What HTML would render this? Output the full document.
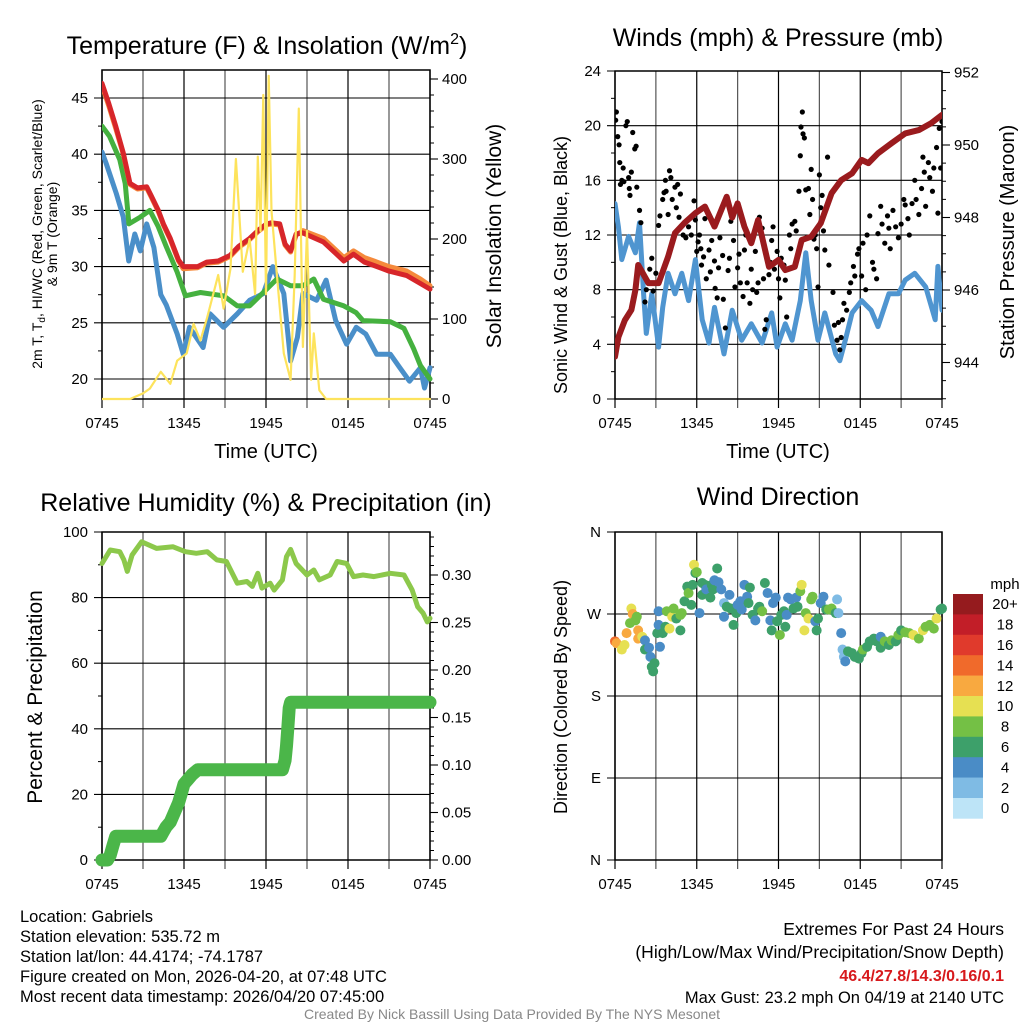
<!DOCTYPE html>
<html><head><meta charset="utf-8"><style>
html,body{margin:0;padding:0;background:#fff;}
svg{display:block;font-family:"Liberation Sans",Arial,sans-serif;}
</style></head><body>
<svg id="chart" width="1024" height="1024" viewBox="0 0 1024 1024">
<rect width="1024" height="1024" fill="#fff"/>
<g id="p1"></g>
<g id="p2"></g>
<g id="p3"></g>
<g id="p4"></g>
<g font-size="25" text-anchor="middle" fill="#000">
<text x="267" y="54">Temperature (F) &amp; Insolation (W/m<tspan font-size="16" dy="-10">2</tspan><tspan dy="10">)</tspan></text>
<text x="778" y="46">Winds (mph) &amp; Pressure (mb)</text>
<text x="266" y="511">Relative Humidity (%) &amp; Precipitation (in)</text>
<text x="778" y="505">Wind Direction</text>
</g>
<g font-size="20" text-anchor="middle">
<text x="266" y="458">Time (UTC)</text>
<text x="778" y="458">Time (UTC)</text>
<text transform="translate(501,236) rotate(-90)" font-size="21">Solar Insolation (Yellow)</text>
<text transform="translate(567,265) rotate(-90)" font-size="18">Sonic Wind &amp; Gust (Blue, Black)</text>
<text transform="translate(1014,242) rotate(-90)">Station Pressure (Maroon)</text>
<text transform="translate(42,697) rotate(-90)" font-size="21">Percent &amp; Precipitation</text>
<text transform="translate(567,697) rotate(-90)" font-size="18">Direction (Colored By Speed)</text>
</g>
<g font-size="14" text-anchor="middle">
<text transform="translate(42,234) rotate(-90)">2m T, T<tspan font-size="10" dy="3">d</tspan><tspan dy="-3">, HI/WC (Red, Green, Scarlet/Blue)</tspan></text>
<text transform="translate(57,234) rotate(-90)">&amp; 9m T (Orange)</text>
</g>
<g id="cbar"><text x="1005" y="589" font-size="15" text-anchor="middle">mph</text></g>
<g font-size="16.5" fill="#000">
<text x="20" y="922">Location: Gabriels</text>
<text x="20" y="942">Station elevation: 535.72 m</text>
<text x="20" y="962">Station lat/lon: 44.4174; -74.1787</text>
<text x="20" y="982">Figure created on Mon, 2026-04-20, at 07:48 UTC</text>
<text x="20" y="1002">Most recent data timestamp: 2026/04/20 07:45:00</text>
</g>
<g font-size="17.5" text-anchor="end">
<text x="1004" y="935">Extremes For Past 24 Hours</text>
<text x="1004" y="958">(High/Low/Max Wind/Precipitation/Snow Depth)</text>
<text x="1004" y="981" fill="#d7191c" font-weight="bold" font-size="16">46.4/27.8/14.3/0.16/0.1</text>
<text x="1004" y="1003" font-size="16.5">Max Gust: 23.2 mph On 04/19 at 2140 UTC</text>
</g>
<text x="512" y="1019" font-size="14" fill="#888" text-anchor="middle">Created By Nick Bassill Using Data Provided By The NYS Mesonet</text>
</svg>
<script>
// ---- Data (hours since 0745 UTC) ----
const xTickLabels=["0745","1345","1945","0145","0745"];
const redHours=[0,0.5,1.0,1.56,2.05,2.6,3.27,3.6,4.12,4.49,5.0,5.6,5.95,7.0,7.66,8.5,9.37,10.0,10.8,11.5,12.05,12.4,13.0,13.4,13.8,14.2,14.7,16.2,17.0,17.7,18.4,19.2,19.9,21,22.3,23.3,24];
const redTemp=[46.3,44.5,42.5,40.1,37.4,37.0,37.1,36.3,35.0,33.8,32.5,30.6,30.0,30.0,30.4,30.5,31.0,31.8,32.5,33.3,33.8,33.9,33.8,32.0,31.4,32.9,33.0,32.2,31.3,30.5,31.1,30.4,30.1,29.6,29.2,28.5,28.0];
const orangeTemp=[46.1,44.3,42.3,40.0,37.3,36.9,37.0,36.2,34.9,33.7,32.4,30.5,29.8,29.9,30.3,30.4,30.9,31.7,32.4,33.2,33.7,33.8,33.7,31.9,31.3,32.8,33.2,32.5,31.6,30.8,31.4,30.8,30.5,30.0,29.6,28.9,28.3];
const greenHours=[0,0.55,1.3,1.7,1.97,2.8,3.5,4.1,4.7,5.5,6.1,7.2,8.9,9.9,10.8,12.05,12.8,13.8,14.7,15.5,16.2,17.7,18.6,19.1,21.1,22.1,22.8,23.3,24];
const greenTemp=[42.5,41.6,39.5,37.4,33.8,34.4,35.0,33.6,31.8,29.5,27.4,27.7,27.4,26.5,26.5,28.0,28.9,28.3,28.3,28.9,27.1,26.5,25.9,25.2,25.1,24.5,22.7,21.2,20.0];
const blueHours=[0,0.3,1.05,1.56,1.95,2.4,2.8,3.27,3.8,4.3,4.7,5.5,5.95,6.4,7.4,7.9,8.9,9.9,10.8,11.8,12.5,13.3,13.8,14.3,14.7,15.7,16.4,17.1,17.9,18.6,19.3,20.1,21.1,21.8,22.5,23.3,23.6,24];
const blueTemp=[40.2,39.2,36.5,34.4,30.5,32.9,31.4,33.8,31.7,27.5,26.6,24.0,22.2,24.6,22.8,25.8,24.6,25.8,27.0,27.6,30.0,27.6,21.6,23.7,27.6,27.0,28.8,25.2,23.1,24.6,24.0,22.2,22.2,21.0,19.8,21.0,19.2,21.0];
const solarHours=[0,2.05,3.0,3.5,4.3,5.0,5.5,6.2,6.7,7.2,7.7,8.5,8.9,9.4,9.8,10.3,10.8,11.2,11.4,11.6,11.8,12.0,12.2,12.4,12.8,13.3,13.8,14.1,14.4,14.7,15.0,15.3,15.5,15.9,16.4,24];
const solarValues=[0,0,7,13,34,19,48,57,94,73,102,155,113,163,300,159,200,131,303,210,380,131,404,235,155,57,24,155,363,65,210,24,82,11,0,0];
const tempTicks=[20,25,30,35,40,45];
const solarTicks=[0,100,200,300,400];

const windHours=[0,0.25,0.5,1.0,1.5,1.8,2.1,2.3,2.7,3.2,3.5,3.9,4.4,4.9,5.4,5.9,6.4,6.9,7.3,8.0,8.6,9.3,10.0,10.8,11.5,11.9,12.5,13.0,13.6,14.0,14.4,14.9,15.4,16.2,16.5,16.9,17.4,18.1,18.8,19.3,20.1,20.8,21.3,22.0,22.8,23.5,23.7,24];
const windSpeed=[14.3,12.6,10.2,11.9,10.7,12.9,7.7,4.8,7.7,3.8,6.7,9.2,7.7,9.2,7.2,10.2,5.8,4.1,6.7,3.3,6.5,4.3,5.5,4.1,6.3,3.8,5.5,4.3,7.2,10.7,7.2,4.3,6.3,3.3,2.8,4.3,6.3,7.2,6.5,5.3,7.7,7.7,8.7,9.2,8.2,5.8,9.7,6.5];
const gustHours=[0.05,0.1,0.2,0.3,0.35,0.4,0.5,0.6,0.65,0.8,0.9,1.0,1.05,1.1,1.2,1.3,1.45,1.55,1.6,1.8,1.9,2.2,2.3,2.55,2.7,2.8,3.0,3.2,3.3,3.5,3.6,3.7,3.75,3.9,4.0,4.1,4.2,4.4,4.5,4.6,4.7,4.8,5.0,5.2,5.4,5.6,5.8,5.9,6.0,6.1,6.2,6.3,6.35,6.5,6.6,6.7,6.9,7.0,7.1,7.3,7.35,7.5,7.6,7.7,7.9,7.95,8.1,8.3,8.4,8.5,8.7,8.8,9.0,9.1,9.2,9.4,9.5,9.6,9.7,9.9,10.0,10.1,10.3,10.4,10.5,10.6,10.8,10.9,11.0,11.1,11.3,11.4,11.5,11.6,11.7,11.9,12.0,12.1,12.2,12.4,12.5,12.6,12.8,12.9,13.0,13.2,13.3,13.5,13.6,13.65,13.75,13.8,13.9,14.0,14.2,14.3,14.4,14.5,14.6,14.7,14.8,14.9,15.0,15.1,15.2,15.3,15.4,15.6,15.7,16.0,16.1,16.3,16.4,16.5,16.6,16.7,16.8,17.0,17.2,17.3,17.5,17.6,17.8,17.9,18.1,18.2,18.4,18.5,18.7,18.9,19.0,19.2,19.3,19.5,19.6,19.8,20.0,20.1,20.2,20.4,20.6,20.8,21.0,21.2,21.3,21.5,21.6,21.8,22.0,22.1,22.3,22.5,22.6,22.7,22.8,23.0,23.1,23.3,23.4,23.6,23.7,23.8,23.9,24.0];
const gustSpeed=[20.4,21.0,19.2,18.6,17.3,15.7,16.0,16.9,15.9,20.0,20.3,16.2,15.4,14.9,16.6,19.5,18.3,18.5,15.5,13.8,12.9,7.1,8.0,9.5,10.3,7.9,9.2,12.7,13.4,14.6,15.1,16.0,15.2,13.5,16.7,16.2,14.6,15.5,14.0,15.7,13.3,15.0,12.0,11.8,12.6,12.0,14.5,13.1,10.8,11.5,12.0,11.0,9.8,10.4,13.2,8.8,10.9,9.3,11.6,10.1,8.1,7.4,9.6,11.8,10.5,7.3,5.2,9.4,10.3,13.0,11.6,8.2,9.6,10.6,8.5,7.5,10.9,12.0,8.5,7.0,9.5,8.0,10.8,7.8,8.5,13.3,12.5,8.8,5.1,5.8,9.1,10.0,11.6,12.6,9.5,10.8,8.8,7.4,10.3,9.8,8.7,6.0,12.0,11.0,12.8,13.0,12.3,15.2,17.8,19.9,21.0,19.4,19.1,15.3,15.4,13.5,16.8,14.6,11.7,12.0,11.0,8.2,16.4,14.0,14.9,12.3,10.9,17.7,9.8,7.8,5.4,4.3,5.6,3.6,4.5,5.8,7.0,6.5,7.8,8.5,9.7,9.0,10.6,11.0,9.0,11.4,8.0,12.0,13.4,10.0,9.5,8.8,12.1,14.1,12.8,11.4,13.4,12.5,11.0,13.8,12.6,11.8,12.8,14.6,14.2,13.2,12.0,14.3,16.0,14.6,13.5,15.4,17.7,16.6,14.1,17.3,16.2,15.2,16.9,18.4,13.6,19.8,16.9,20.3];
const pressHours=[0,0.25,0.73,1.2,1.5,1.7,2.45,3.2,3.9,4.4,5.1,5.9,6.6,7.3,8.2,8.6,9.0,9.5,10.0,10.5,11.3,12.0,12.5,13.2,13.7,14.4,15.1,15.9,16.6,17.4,18.1,18.6,19.3,20.3,21.3,22.3,23.2,24];
const pressValues=[944.16,944.7,945.17,945.45,946.0,946.69,946.19,946.19,946.92,947.57,947.85,948.12,948.3,947.75,948.57,948.0,948.39,947.75,947.29,947.93,946.64,946.83,946.55,946.64,947.38,947.47,947.84,948.67,949.03,949.22,949.59,949.5,949.77,950.05,950.32,950.41,950.6,950.83];
const windTicks=[0,4,8,12,16,20,24];
const pressTicks=[944,946,948,950,952];

const rhHours=[0,0.6,1.3,1.6,1.85,2.2,2.9,4.0,5.2,6.1,6.9,7.7,8.4,9.1,9.9,10.6,11.0,11.4,11.7,12.3,12.6,13.2,13.5,13.8,14.2,15.0,15.5,15.9,16.7,17.2,17.9,18.4,19.1,19.9,21.1,22.1,22.7,23.1,23.5,23.8,24];
const rhValues=[90.4,94.5,94,91.5,88,93,97,95,95.5,94,93.5,94,91.5,91,84.4,84.9,83.4,87.4,82.9,84.4,82.3,85.4,92.5,94.7,90.4,86.9,88.4,85.4,86.9,91,90.4,86.4,86.9,86.4,87.4,86.9,82.3,77.2,75.2,72.6,73.7];
const precipHours=[0,0.4,0.6,0.8,1.0,4.3,4.5,4.7,5.0,5.3,5.6,5.8,6.0,6.3,6.6,7.0,13.2,13.4,13.5,13.6,13.7,13.8,24];
const precipValues=[0,0,0.005,0.015,0.025,0.025,0.03,0.035,0.04,0.05,0.06,0.07,0.08,0.085,0.09,0.095,0.095,0.105,0.12,0.14,0.16,0.166,0.166];
const rhTicks=[0,20,40,60,80,100];
const precipTicks=["0.00","0.05","0.10","0.15","0.20","0.25","0.30"];

const dirHours=[0,0.12,0.5,0.7,0.85,1.1,1.2,1.3,1.5,1.6,1.7,1.7,2.0,2.2,2.2,2.5,2.6,2.7,2.8,2.9,3.1,3.2,3.3,3.2,3.5,3.7,3.8,4.0,4.2,4.3,4.5,4.8,4.8,4.9,5.1,5.3,5.4,5.6,5.7,5.9,5.8,6.0,6.2,6.4,6.4,6.6,6.7,7.0,7.1,7.2,7.3,7.5,7.6,7.8,8.0,8.0,8.2,8.4,8.5,8.7,8.9,9.0,9.2,9.3,9.5,9.7,9.8,9.9,10.1,10.3,10.5,10.6,10.8,11.0,11.2,11.4,11.5,11.6,11.8,11.9,12.1,12.2,12.4,12.5,12.6,12.7,12.9,13.1,13.3,13.4,13.6,13.7,13.9,14.0,14.2,14.4,14.5,14.7,14.8,14.9,15.1,15.3,15.5,15.7,15.9,16.2,16.3,16.4,16.6,16.7,16.8,16.9,17.1,17.4,17.6,17.9,18.1,18.2,18.5,18.7,19.0,19.2,19.5,19.5,19.8,20.1,20.3,20.6,20.8,21.0,21.3,21.6,21.9,22.3,22.6,22.8,23.1,23.4,23.6,23.9,24];
const dirDegrees=[240,238,231,236,249,260,276,270,263,267,252,243,245,241,231,233,223,212,207,216,249,258,234,273,249,256,273,254,267,276,265,269,252,271,284,300,293,280,302,315,324,316,271,304,291,302,297,288,302,297,307,320,305,297,267,282,278,291,276,258,271,280,284,275,302,289,282,299,269,263,276,278,273,304,293,263,252,282,288,262,247,269,273,256,269,288,286,276,288,278,295,302,252,271,265,286,289,262,252,265,282,289,275,275,276,271,286,271,249,231,223,218,229,227,223,221,227,231,234,240,243,240,245,233,240,236,241,240,247,252,250,249,247,243,252,256,258,254,265,275,276];
const dirSpeed=[15,13,10,10,12,8,10,12,8,8,12,12,10,4,7,4,4,6,6,6,6,4,4,4,6,7,8,10,10,8,6,8,7,8,6,7,8,6,6,7,10,8,4,6,6,7,4,6,7,6,4,7,4,4,4,3,6,4,6,6,6,4,4,4,4,4,6,6,6,4,6,6,8,6,4,4,6,4,4,6,8,6,6,6,4,4,4,6,4,6,8,10,10,8,10,8,8,4,6,6,4,4,6,8,8,6,2,2,4,2,2,4,6,6,6,6,6,8,6,6,6,6,4,6,8,6,8,6,8,6,8,8,10,8,10,8,8,8,10,6,6];
const speedColors=["#bde4f7","#7fbbe4","#4a8cc6","#3da06a","#74c045","#e6e052","#f8a940","#f06a2b","#e03a2c","#c21e28","#951b1e"];
const speedLabels=["0","2","4","6","8","10","12","14","16","18","20+"];
const dirLabels=["N","E","S","W","N"];

// ---- helpers ----
const NS="http://www.w3.org/2000/svg";
function mk(parent,tag,attrs){const e=document.createElementNS(NS,tag);for(const k in attrs)e.setAttribute(k,attrs[k]);parent.appendChild(e);return e;}
function lin(d0,d1,r0,r1){return v=>r0+(v-d0)/(d1-d0)*(r1-r0);}
function pathFrom(xs,ys,fx,fy){return xs.map((h,i)=>(i?"L":"M")+fx(h).toFixed(1)+","+fy(ys[i]).toFixed(1)).join("");}

function frame(g,L,R,T,B,leftTicks,fyL,leftLabels,leftMinorStep,rightTicks,fyR,rightLabels,rightMinor){
  const fx=lin(0,24,L,R);
  for(let h=0;h<=24;h+=3){
    const x=fx(h);
    const ln=mk(g,"line",{x1:x,x2:x,y1:T,y2:B+9,stroke:(h%6===0)?"#000":"#555","stroke-width":1.2});
    
    
  }
  xTickLabels.forEach((t,i)=>{
    const tx=mk(g,"text",{x:fx(i*6),y:B+29,"font-size":15,"text-anchor":"middle"});tx.textContent=t;
    
    
  });
  leftTicks.forEach((v,i)=>{
    const y=fyL(v);
    const ln=mk(g,"line",{x1:L-8,x2:R,y1:y,y2:y,stroke:"#000","stroke-width":1.1});
    
    
    if(leftLabels){const tx=mk(g,"text",{x:L-14,y:y+5,"font-size":15,"text-anchor":"end"});tx.textContent=leftLabels[i];
      
      }
  });
  if(leftMinorStep){for(let i=0;i<leftTicks.length-1;i++){const v=(leftTicks[i]+leftTicks[i+1])/2;const y=fyL(v);if(y>T&&y<B)mk(g,"line",{x1:L-4,x2:L,y1:y,y2:y,stroke:"#000"});}}
  if(rightTicks){
    rightTicks.forEach((v,i)=>{const y=fyR(v);mk(g,"line",{x1:R,x2:R+8,y1:y,y2:y,stroke:"#000","stroke-width":1.1});
      const tx=mk(g,"text",{x:R+12,y:y+5,"font-size":15});tx.textContent=rightLabels[i];
      
      });
    rightMinor.forEach(v=>{const y=fyR(v);if(y>=T&&y<=B)mk(g,"line",{x1:R,x2:R+4,y1:y,y2:y,stroke:"#000"});});
  }
  mk(g,"rect",{x:L,y:T,width:R-L,height:B-T,fill:"none",stroke:"#000","stroke-width":1.5});
  return fx;
}
function minors(a,b,s){const r=[];for(let v=a;v<=b+1e-9;v+=s)r.push(v);return r;}

// ---- Panel 1 ----
(function(){
  const g=document.getElementById("p1");const L=102,R=430,T=70,B=399;
  const fy=lin(20,45,379,98), fs=lin(0,400,399,79);
  const fx=frame(g,L,R,T,B,tempTicks,fy,tempTicks.map(String),true,solarTicks,fs,solarTicks.map(String),minors(0,410,20));
  const cl=mk(g,"clipPath",{id:"c1"});mk(cl,"rect",{x:L,y:T-6,width:R-L+3,height:B-T+8});
  const d=mk(g,"g",{"clip-path":"url(#c1)","fill":"none","stroke-linejoin":"round","stroke-linecap":"round"});
  let p;
  p=mk(d,"path",{d:pathFrom(blueHours,blueTemp,fx,fy),stroke:"#4a8fc9","stroke-width":5});
  
  p=mk(d,"path",{d:pathFrom(greenHours,greenTemp,fx,fy),stroke:"#45b13f","stroke-width":5});
  
  p=mk(d,"path",{d:pathFrom(redHours,orangeTemp,fx,fy),stroke:"#f58a3c","stroke-width":5});
  
  p=mk(d,"path",{d:pathFrom(redHours,redTemp,fx,fy),stroke:"#d7262a","stroke-width":5});
  
  p=mk(d,"path",{d:pathFrom(solarHours,solarValues,fx,fs),stroke:"#fde35c","stroke-width":2.2});
  
})();

// ---- Panel 2 ----
(function(){
  const g=document.getElementById("p2");const L=615,R=942,T=71,B=399;
  const fy=lin(0,24,399,71), fp=lin(944,952,362.5,72.5);
  const fx=frame(g,L,R,T,B,windTicks,fy,windTicks.map(String),true,pressTicks,fp,pressTicks.map(String),minors(943,952,0.5));
  const cl=mk(g,"clipPath",{id:"c2"});mk(cl,"rect",{x:L,y:T,width:R-L,height:B-T});
  const d=mk(g,"g",{"clip-path":"url(#c2)","fill":"none","stroke-linejoin":"round","stroke-linecap":"round"});
  let p=mk(d,"path",{d:pathFrom(windHours,windSpeed,fx,fy),stroke:"#4f95d0","stroke-width":5});
  
  const dots=mk(d,"g",{fill:"#000"});
  gustHours.forEach((h,i)=>{const c=mk(dots,"circle",{cx:fx(h),cy:fy(gustSpeed[i]),r:2.6});
    });
  p=mk(d,"path",{d:pathFrom(pressHours,pressValues,fx,fp),stroke:"#9a1b1e","stroke-width":6});
  
})();

// ---- Panel 3 ----
(function(){
  const g=document.getElementById("p3");const L=102,R=430,T=532,B=860;
  const fy=lin(0,100,860,532), fpz=lin(0,0.05,860,812.5);
  const pt=precipTicks.map(Number);
  const fx=frame(g,L,R,T,B,rhTicks,fy,rhTicks.map(String),true,pt,fpz,precipTicks,minors(0,0.345,0.01));
  const cl=mk(g,"clipPath",{id:"c3"});mk(cl,"rect",{x:L-8,y:T,width:R-L+16,height:B-T+8});
  const d=mk(g,"g",{"clip-path":"url(#c3)","fill":"none","stroke-linejoin":"round","stroke-linecap":"round"});
  let p=mk(d,"path",{d:pathFrom(rhHours,rhValues,fx,fy),stroke:"#8cc84b","stroke-width":5});
  
  p=mk(d,"path",{d:pathFrom(precipHours,precipValues,fx,fpz),stroke:"#4bb649","stroke-width":13});
  
})();

// ---- Panel 4 ----
(function(){
  const g=document.getElementById("p4");const L=615,R=942,T=532,B=860;
  const fy=lin(0,360,860,532);
  const fx=frame(g,L,R,T,B,[0,90,180,270,360],fy,dirLabels,false,null,null,null,null);
  const d=mk(g,"g",{});
  dirHours.forEach((h,i)=>{const idx=Math.min(10,Math.floor(dirSpeed[i]/2));
    const c=mk(d,"circle",{cx:fx(h),cy:fy(dirDegrees[i]),r:5,fill:speedColors[idx]});
    });
  const cb=document.getElementById("cbar");
  const bh=20.4, top=594;
  speedLabels.forEach((lab,i)=>{const k=10-i;const y=top+i*bh;
    const r=mk(cb,"rect",{x:953,y:y,width:30,height:bh+0.3,fill:speedColors[k]});
    
    const t=mk(cb,"text",{x:1005,y:y+bh/2+5,"font-size":15,"text-anchor":"middle"});t.textContent=speedLabels[k];
    });
})();
</script>
</body></html>
